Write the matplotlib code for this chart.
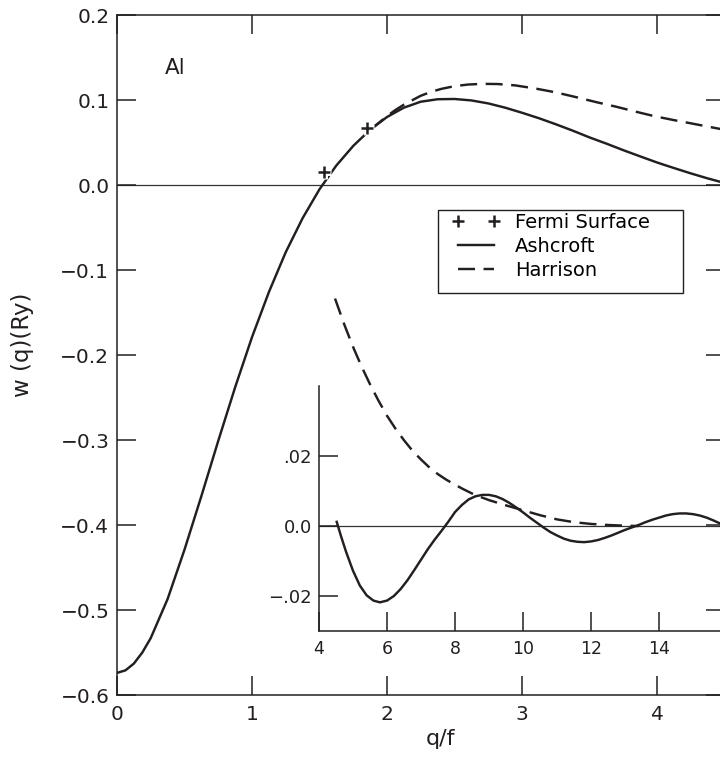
import matplotlib
matplotlib.use("Agg")
import matplotlib.pyplot as plt
import matplotlib.patches as ptch

plt.rcParams['font.family'] = ['DejaVu Sans']
plt.rcParams['axes.unicode_minus'] = True

encre = '#231f20'

# courbe principale : w(q) en Ry en fonction de q/kF
q_ashcroft = [0.0, 0.0625, 0.125, 0.1875, 0.25, 0.375, 0.5, 0.625, 0.75,
              0.875, 1.0, 1.125, 1.25, 1.375, 1.5, 1.625, 1.75, 1.875, 2.0,
              2.125, 2.25, 2.375, 2.5, 2.625, 2.75, 2.875, 3.0, 3.125, 3.25,
              3.375, 3.5, 3.625, 3.75, 3.875, 4.0, 4.125, 4.25, 4.375, 4.5]
w_ashcroft = [-0.574, -0.571, -0.563, -0.550, -0.533, -0.487, -0.429, -0.366,
              -0.301, -0.238, -0.179, -0.126, -0.079, -0.039, -0.005, 0.023,
              0.046, 0.065, 0.080, 0.091, 0.098, 0.1009, 0.1012, 0.0995,
              0.096, 0.091, 0.085, 0.0786, 0.0715, 0.064, 0.056, 0.0487,
              0.041, 0.0337, 0.0265, 0.020, 0.0137, 0.0078, 0.0024]

q_harrison = [1.875, 1.95, 2.0, 2.06, 2.125, 2.19, 2.25, 2.325, 2.4, 2.5,
              2.6, 2.71, 2.82, 2.95, 3.1, 3.25, 3.41, 3.55, 3.7, 3.85, 3.98,
              4.12, 4.27, 4.4, 4.5]
w_harrison = [0.065, 0.0745, 0.081, 0.088, 0.0945, 0.100, 0.105, 0.1095,
              0.113, 0.1163, 0.1182, 0.119, 0.1188, 0.1172, 0.1135, 0.109,
              0.103, 0.0975, 0.092, 0.086, 0.081, 0.0765, 0.072, 0.068, 0.065]

q_fermi = [1.53, 1.85]
w_fermi = [0.015, 0.067]

# encart : grands q
qi_ashcroft = [4.52, 4.65, 4.8, 5.0, 5.2, 5.4, 5.6, 5.79, 6.0, 6.2, 6.4, 6.6,
               6.8, 7.0, 7.2, 7.4, 7.6, 7.8, 8.0, 8.2, 8.4, 8.6, 8.8, 9.0,
               9.2, 9.4, 9.6, 9.8, 10.0, 10.2, 10.4, 10.6, 10.8, 11.0, 11.2,
               11.4, 11.6, 11.8, 12.0, 12.2, 12.4, 12.6, 12.8, 13.0, 13.2,
               13.4, 13.6, 13.8, 14.0, 14.2, 14.4, 14.6, 14.8, 15.0, 15.2,
               15.4, 15.6, 15.8, 16.0]
wi_ashcroft = [0.0012, -0.0030, -0.0075, -0.0128, -0.0170, -0.0198, -0.0213,
               -0.0218, -0.0213, -0.0200, -0.0180, -0.0155, -0.0126, -0.0096,
               -0.0066, -0.0039, -0.0014, 0.0012, 0.0040, 0.0060, 0.0076,
               0.0085, 0.0089, 0.0089, 0.0085, 0.0077, 0.0066, 0.0053, 0.0039,
               0.0024, 0.0010, -0.0004, -0.0017, -0.0027, -0.0036, -0.0042,
               -0.0045, -0.0046, -0.0044, -0.0040, -0.0034, -0.0027, -0.0019,
               -0.0011, -0.0004, 0.0003, 0.0011, 0.0018, 0.0024, 0.0030,
               0.0034, 0.0036, 0.0036, 0.0034, 0.0030, 0.0024, 0.0016,
               0.0007, -0.0002]

qi_harrison = [4.47, 4.75, 5.0, 5.25, 5.5, 5.75, 6.0, 6.25, 6.5, 6.75, 7.0,
               7.25, 7.5, 7.75, 8.0, 8.25, 8.5, 8.75, 9.0, 9.5, 10.0, 10.5,
               11.0, 11.5, 12.0, 12.5, 13.0, 13.4]
wi_harrison = [0.0650, 0.0574, 0.0512, 0.0456, 0.0405, 0.0358, 0.0315,
               0.0278, 0.0245, 0.0215, 0.0190, 0.0167, 0.0148, 0.0132,
               0.0118, 0.0105, 0.0093, 0.0083, 0.0074, 0.0059, 0.0045,
               0.0031, 0.0019, 0.0011, 0.0006, 0.0003, 0.0001, 0.0]

main_xticks = [0, 1, 2, 3, 4]
main_yticks = [-0.6, -0.5, -0.4, -0.3, -0.2, -0.1, 0.0, 0.1, 0.2]
main_ylabels = ['\u22120.6', '\u22120.5', '\u22120.4', '\u22120.3', '\u22120.2',
                '\u22120.1', '0.0', '0.1', '0.2']
inset_xticks = [4, 6, 8, 10, 12, 14]
inset_yticks = [-0.02, 0.0, 0.02]
inset_ylabels = ['\u2212.02', '0.0', '.02']

fig = plt.figure(figsize=(7.2, 7.58), dpi=100)

# axe principal (le bord droit sort de l'image, comme sur l'original)
ax = fig.add_axes([0.1625, 0.0831, 0.84375, 0.8971])
ax.set_xlim(0, 4.5)
ax.set_ylim(-0.6, 0.2)
ax.axhline(0, color='#333333', lw=0.9, zorder=1)

ax.plot(q_ashcroft, w_ashcroft, color=encre, lw=1.75, label='Ashcroft',
        zorder=3)
ax.plot(q_harrison, w_harrison, color=encre, lw=1.75, dashes=(7, 3.5),
        label='Harrison', zorder=3)
# fond blanc sous les croix
ax.plot(q_fermi, w_fermi, ls='none', marker='+', ms=10, mew=5, color='white',
        zorder=4)
ax.plot(q_fermi, w_fermi, ls='none', marker='+', ms=9, mew=1.8, color=encre,
        label='Fermi Surface', zorder=5)

ax.text(0.43, 0.138, 'Al', ha='center', va='center', fontsize=15.5,
        color=encre)

ax.set_xticks(main_xticks)
ax.set_yticks(main_yticks)
ax.set_yticklabels(main_ylabels)
ax.tick_params(direction='in', length=13.7, width=1.1, top=True, right=True,
               labelsize=14.5, colors=encre)
ax.tick_params(axis='x', pad=7.5)
ax.tick_params(axis='y', pad=5.5)
for s in ax.spines.values():
    s.set_linewidth(1.1)
    s.set_color(encre)

ax.set_xlabel('q/f', fontsize=16, color=encre)
ax.xaxis.set_label_coords(0.533, -0.05)
ax.set_ylabel('w (q)(Ry)', fontsize=16.5, color=encre)
ax.yaxis.set_label_coords(-0.137, 0.515)

# cadre de la légende dessiné à part
cadre = ptch.Rectangle((0.5284, 0.5912), 0.4033, 0.122, transform=ax.transAxes,
                       fill=True, facecolor='white', edgecolor=encre,
                       linewidth=1.0, zorder=6)
ax.add_patch(cadre)

h, l = ax.get_legend_handles_labels()
ordre = [2, 0, 1]
leg = ax.legend([h[i] for i in ordre], [l[i] for i in ordre],
                loc='upper left', bbox_to_anchor=(0.5514, 0.709),
                fontsize=14, frameon=False, borderaxespad=0, borderpad=0,
                labelspacing=0.25, handlelength=2.47, handletextpad=0.77,
                numpoints=2)
leg.set_zorder(7)

# encart
axi = fig.add_axes([0.4431, 0.1675, 0.5667, 0.3232])
axi.set_facecolor('none')
axi.set_xlim(4, 16)
axi.set_ylim(-0.03, 0.04)
axi.axhline(0, color='#333333', lw=0.9, zorder=1)
axi.plot(qi_ashcroft, wi_ashcroft, color=encre, lw=1.75, zorder=3)
axi.plot(qi_harrison, wi_harrison, color=encre, lw=1.75, dashes=(7, 3.5),
         clip_on=False, zorder=3)
axi.set_xticks(inset_xticks)
axi.set_yticks(inset_yticks)
axi.set_yticklabels(inset_ylabels)
axi.tick_params(direction='in', length=13.5, width=1.1, colors=encre)
axi.tick_params(axis='x', labelsize=12.5, pad=6.5)
axi.tick_params(axis='y', labelsize=13, pad=5)
axi.spines['top'].set_visible(False)
axi.spines['right'].set_visible(False)
for s in ('left', 'bottom'):
    axi.spines[s].set_linewidth(1.1)
    axi.spines[s].set_color(encre)

fig.savefig('out.png', dpi=100)
